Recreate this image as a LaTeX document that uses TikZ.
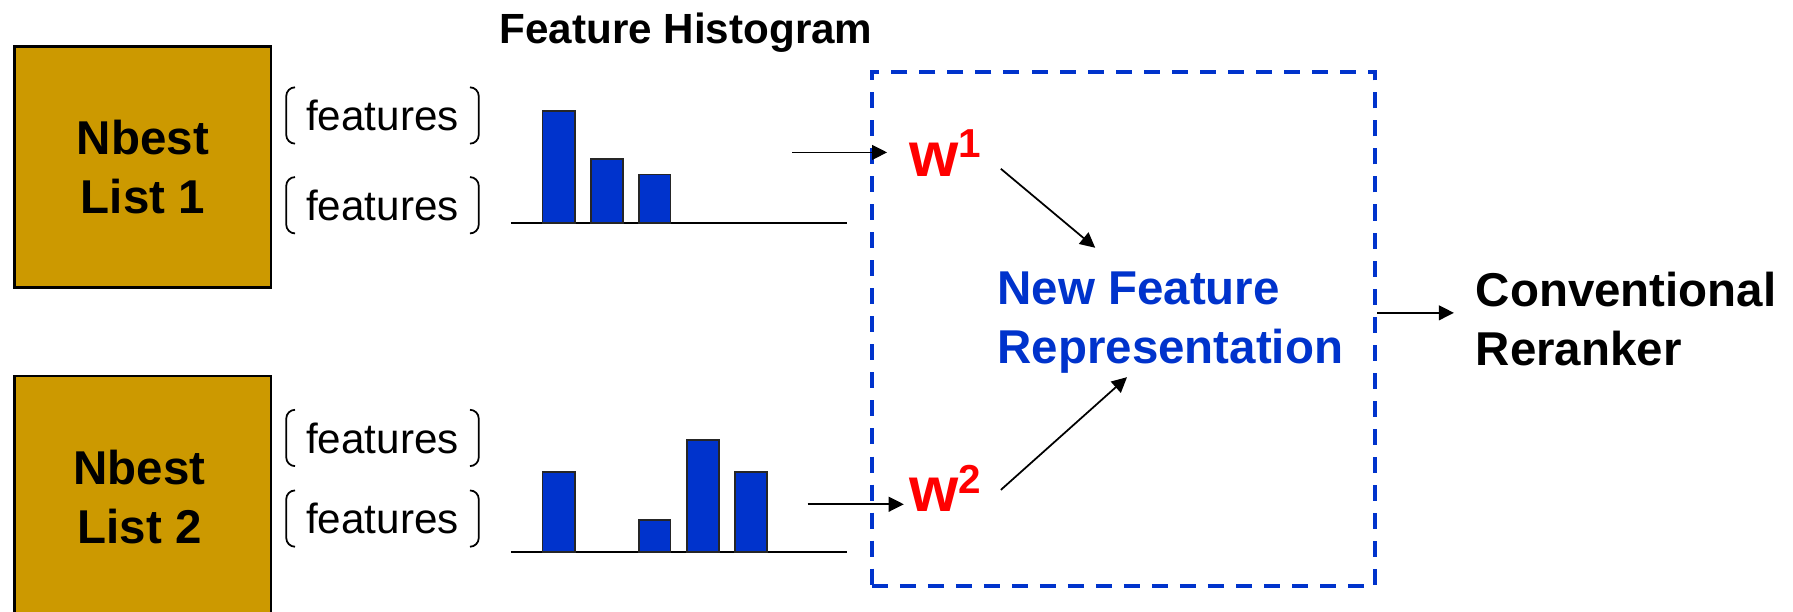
\documentclass[tikz,border=0pt]{standalone}
\usepackage{fontspec}
\setmainfont{Liberation Sans}
\usetikzlibrary{arrows.meta,calc}
\definecolor{gold}{HTML}{CC9900}
\definecolor{barblue}{HTML}{0033CC}
\definecolor{wred}{HTML}{FF0000}
\newcommand{\wsup}[2]{w\raisebox{#1}{\fontsize{11.5}{12}\selectfont #2}}
\begin{document}
\begin{tikzpicture}[x=0.011435cm, y=-0.011435cm,
  listbox/.style={draw=black, line width=0.7pt, fill=gold, inner sep=0pt},
  bigtext/.style={font=\fontsize{13.5}{16.6}\selectfont\bfseries, inner sep=0pt},
  feat/.style={font=\fontsize{12}{14}\selectfont, inner sep=0pt, minimum width=1.91cm, minimum height=0.549cm},
  brk/.style={line width=0.5pt, rounded corners=2.5pt},
  histbar/.style={draw=black!85, line width=0.5pt, fill=barblue},
  histaxis/.style={line width=0.6pt},
  arr/.style={line width=0.5pt, -{Triangle[length=4.3pt,width=4.2pt]}},
  wlab/.style={font=\fontsize{18}{20}\selectfont\bfseries, text=wred, inner sep=0pt, anchor=base west},
  newrepbox/.style={draw=barblue, line width=1.1pt, dash pattern=on 0.16cm off 0.12cm, minimum width=5.031cm, minimum height=5.134cm, inner sep=0pt}
]
\useasboundingbox (0,0) rectangle (1568,535);
\clip (0,0) rectangle (1568,535);

% Nbest list boxes
\node[listbox, minimum width=2.566cm, minimum height=2.407cm] (box1) at (124.8,146) {};
\node[listbox, minimum width=2.566cm, minimum height=2.641cm] (box2) at (124.8,444.5) {};
\node[bigtext, align=center] (t1) at (125,146.2) {Nbest\\List 1};
\node[bigtext, align=center] (t2) at (122,434.8) {Nbest\\List 2};

% features with brackets
\node[feat] (f1) at (334.5,101) {features};
\node[feat] (f2) at (334.5,179.5) {features};
\node[feat] (f3) at (334.5,383) {features};
\node[feat] (f4) at (334.5,453.5) {features};
\foreach \f in {f1,f2,f3,f4} {
  \draw[brk] ([xshift=2.5pt]\f.north west) -- (\f.north west) -- (\f.south west) -- ([xshift=2.5pt]\f.south west);
  \draw[brk] ([xshift=-2.5pt]\f.north east) -- (\f.north east) -- (\f.south east) -- ([xshift=-2.5pt]\f.south east);
}

% title
\node[font=\fontsize{12}{14}\selectfont\bfseries, anchor=base, inner sep=0pt] (title) at (600,37.8) {Feature Histogram};

% histogram 1
\draw[histaxis] (446.8,194.7) -- (740.5,194.7);
\draw[histbar] (474.4,194.7) rectangle (503,96.8);
\draw[histbar] (517,194.7) rectangle (544.7,139);
\draw[histbar] (558.7,194.7) rectangle (586.3,152.5);

% histogram 2
\draw[histaxis] (446.8,483) -- (740.5,483);
\draw[histbar] (474.4,483) rectangle (503,412.9);
\draw[histbar] (558.7,483) rectangle (586.3,454.7);
\draw[histbar] (601,483) rectangle (628.5,384.8);
\draw[histbar] (643,483) rectangle (671,412.9);

\coordinate (h1out) at (692.7,133.3);
\coordinate (h2out) at (706.3,441);

% dashed frame
\node[newrepbox] (rep) at (982.5,287.5) {};

% w labels
\node[wlab] (w1) at (794.7,154) {\wsup{5.3pt}{1}};
\node[wlab] (w2) at (794.7,447.2) {\wsup{5.1pt}{2}};

% new feature representation
\node[bigtext, text=barblue, align=left, anchor=north west] (nfr) at (871.7,237.5) {New Feature\\Representation};
% conventional reranker
\node[bigtext, align=left, anchor=north west] (conv) at (1290,237.5) {Conventional\\Reranker};

% connectors
\draw[arr, shorten >=0.216cm] (h1out) -- (h1out -| w1.west);
\draw[arr, shorten >=0.049cm] (h2out) -- (h2out -| w2.west);
\draw[arr] ($(w1.south east)+(16.6,-7)$) -- ($(nfr.north west)+(86.1,-20.8)$);
\draw[arr] ($(w2.south east)+(16.6,-19.4)$) -- ($(nfr.south west)+(113.9,2.9)$);
\coordinate (convin) at ($(conv.north west)+(-18.5,36.1)$);
\draw[arr] (rep.east |- convin) -- (convin);
\end{tikzpicture}
\end{document}
